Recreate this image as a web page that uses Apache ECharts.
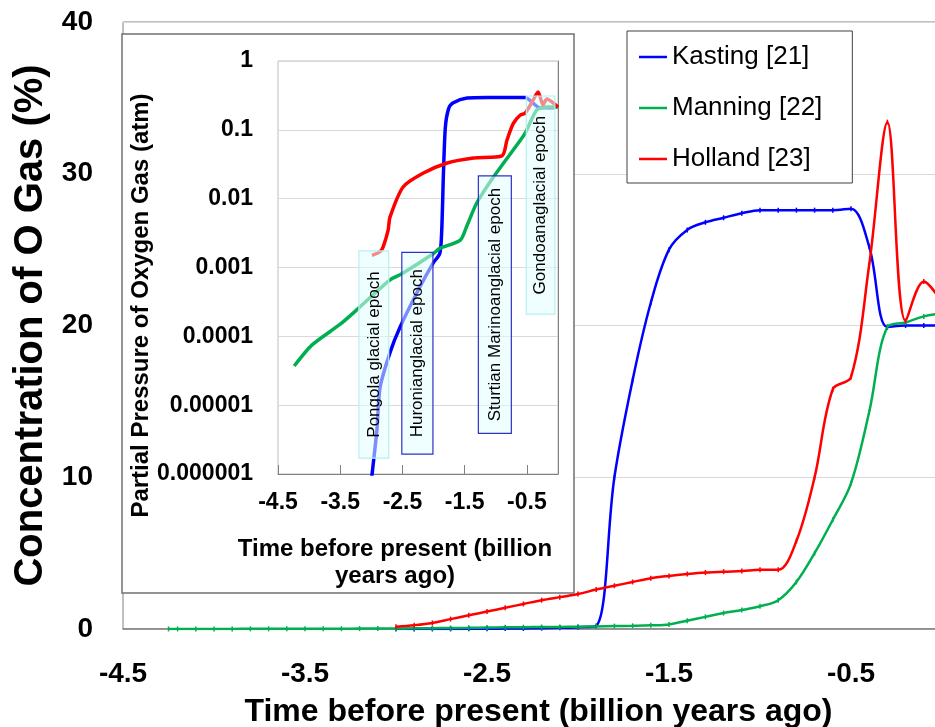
<!DOCTYPE html>
<html>
<head>
<meta charset="utf-8">
<script src="https://cdn.jsdelivr.net/npm/echarts@6/dist/echarts.min.js"></script>
<style>
  html, body { margin: 0; padding: 0; background: #fff; }
  #chart { width: 935px; height: 727px; }
</style>
</head>
<body>
<div id="chart"></div>
<script>
// main chart: oxygen concentration (%), one point every 0.1 Gyr
const mainTime = [-4.25, -4.2, -4.1, -4.0, -3.9, -3.8, -3.7, -3.6, -3.5, -3.4, -3.3, -3.2, -3.1, -3.0,
  -2.9, -2.8, -2.7, -2.6, -2.5, -2.4, -2.3, -2.2, -2.1, -2.0,
  -1.9, -1.8, -1.7, -1.6, -1.5, -1.4, -1.3, -1.2, -1.1, -1.0,
  -0.9, -0.8, -0.7, -0.6, -0.5, -0.4, -0.3, -0.2, -0.1, 0.0];
const kasting = [null, null, null, null, null, null, null, null, null, null, null, null, null, 0.0001,
  0.0006, 0.003, 0.006, 0.01, 0.016, 0.025, 0.037, 0.056, 0.08, 0.12,
  0.2, 10.0, 16.4, 21.5, 25.0, 26.3, 26.8, 27.1, 27.4, 27.6,
  27.6, 27.6, 27.6, 27.6, 27.7, 25.2, 19.9, 20.0, 20.0, 20.0];
const manning = [0.004, 0.005, 0.006, 0.007, 0.008, 0.009, 0.011, 0.013, 0.015, 0.018, 0.021, 0.025, 0.03, 0.035,
  0.045, 0.055, 0.065, 0.08, 0.1, 0.11, 0.12, 0.13, 0.14, 0.15,
  0.17, 0.19, 0.21, 0.24, 0.3, 0.55, 0.8, 1.05, 1.25, 1.5,
  1.9, 3.1, 5.0, 7.2, 9.6, 14.3, 19.9, 20.2, 20.6, 20.8];
const holland = [null, null, null, null, null, null, null, null, null, null, null, null, null, 0.15,
  0.25, 0.4, 0.65, 0.9, 1.15, 1.4, 1.65, 1.9, 2.1, 2.3,
  2.6, 2.85, 3.1, 3.35, 3.5, 3.62, 3.72, 3.78, 3.82, 3.9,
  3.9, 5.8, 10.0, 15.8, 16.6, 24.0, 33.4, 20.3, 22.9, 21.5];

// inset: partial pressure (atm), log scale
const insetKastingTime = [-3.0, -2.91, -2.86, -2.7, -2.54, -2.22, -2.01, -1.9, -1.87, -1.84, -1.81, -1.76, -1.69, -1.46, -1.14, -0.53, -0.29, -0.05];
const insetKastingAtm = [8e-7, 4.4e-6, 1.8e-5, 5.8e-5, 1.35e-4, 5.2e-4, 1.15e-3, 1.6e-3, 3.2e-3, 0.025, 0.11, 0.2, 0.245, 0.29, 0.295, 0.295, 0.21, 0.21];
const insetManningTime = [-4.24, -3.96, -3.5, -3.24, -2.7, -2.51, -2.0, -1.9, -1.57, -1.47, -1.31, -1.04, -0.72, -0.53, -0.34, -0.18, 0.0];
const insetManningAtm = [3.7e-5, 7.4e-5, 1.5e-4, 2.4e-4, 6.6e-4, 8.1e-4, 1.6e-3, 1.9e-3, 2.5e-3, 3.9e-3, 8.5e-3, 0.0204, 0.051, 0.089, 0.195, 0.214, 0.214];
const insetHollandTime = [-2.99, -2.86, -2.81, -2.73, -2.7, -2.49, -2.17, -1.78, -1.36, -0.9, -0.82, -0.72, -0.61, -0.53, -0.42, -0.32, -0.24, -0.18, 0.0];
const insetHollandAtm = [1.5e-3, 1.7e-3, 2.0e-3, 3.5e-3, 5.4e-3, 0.0148, 0.0234, 0.033, 0.039, 0.042, 0.071, 0.123, 0.163, 0.174, 0.25, 0.355, 0.23, 0.28, 0.214];

// glacial epochs drawn as boxes in the inset
const epochNames = ['Pongola glacial epoch', 'Huronianglacial epoch', 'Sturtian Marinoanglacial epoch', 'Gondoanaglacial epoch'];
const epochStart = [-3.2, -2.51, -1.28, -0.51];
const epochEnd = [-2.72, -2.01, -0.75, -0.05];
const epochLow = [1.7e-6, 1.95e-6, 3.9e-6, 2.1e-4];
const epochHigh = [1.74e-3, 1.66e-3, 0.0214, 0.31];

const timeTicks = [-4.5, -3.5, -2.5, -1.5, -0.5];
const pressureLabels = ['0.000001', '0.00001', '0.0001', '0.001', '0.01', '0.1', '1'];
const seriesNames = ['Kasting [21]', 'Manning [22]', 'Holland [23]'];
const colors = ['#0000ff', '#00b050', '#ff0000'];

const FONT = "'Liberation Sans', Arial, Helvetica, sans-serif";
const chart = echarts.init(document.getElementById('chart'));

function pairs(xs, ys) {
  return xs.map((x, i) => [x, ys[i]]);
}

function mainLine(i, values) {
  return {
    name: seriesNames[i],
    type: 'line',
    xAxisIndex: 0,
    yAxisIndex: 0,
    data: pairs(mainTime, values),
    smooth: 0.35,
    symbol: 'rect',
    symbolSize: [1.5, 5],
    showAllSymbol: true,
    z: 2,
    itemStyle: { color: colors[i] },
    lineStyle: { color: colors[i], width: 2.5 },
  };
}

function insetLine(i, xs, ys) {
  return {
    name: seriesNames[i],
    type: 'line',
    xAxisIndex: 1,
    yAxisIndex: 1,
    data: pairs(xs, ys),
    smooth: 0.25,
    showSymbol: false,
    z: 12,
    itemStyle: { color: colors[i] },
    lineStyle: { color: colors[i], width: 3.5 },
  };
}

const option = {
  animation: false,
  textStyle: { fontFamily: FONT },
  graphic: [{
    // frame of the inset
    type: 'rect',
    z: 5,
    shape: { x: 122, y: 34, width: 452, height: 559 },
    style: { fill: '#fff', stroke: '#707070', lineWidth: 1.5 },
  }],
  legend: {
    data: seriesNames,
    orient: 'vertical',
    left: 627,
    top: 31,
    padding: [13, 30, 11, 12],
    itemGap: 25,
    itemWidth: 28,
    itemHeight: 2.5,
    icon: 'rect',
    backgroundColor: '#fff',
    borderColor: '#404040',
    borderWidth: 1,
    textStyle: { fontSize: 26, color: '#000', fontFamily: FONT },
  },
  grid: [
    // the plot runs on past the right edge of the picture, as in the original
    { left: 123, top: 22, width: 819, height: 607, outerBoundsMode: 'none', show: true, borderColor: '#808080', borderWidth: 1 },
    { left: 278, top: 61, width: 280, height: 413, outerBoundsMode: 'none', show: true, borderColor: '#bfbfbf', borderWidth: 1, z: 10 },
  ],
  xAxis: [
    {
      type: 'value', gridIndex: 0, min: -4.5, max: 0,
      name: 'Time before present (billion years ago)',
      nameLocation: 'middle', nameGap: 67,
      nameTextStyle: { fontSize: 32, fontWeight: 'bold', color: '#000', padding: [0, 0, 0, 12], fontFamily: FONT },
      axisLine: { lineStyle: { color: '#808080', width: 1.5 } },
      axisTick: { show: false },
      splitLine: { show: false },
      axisLabel: {
        customValues: timeTicks, margin: 31,
        fontSize: 28, fontWeight: 'bold', color: '#000', fontFamily: FONT,
        formatter: v => v.toFixed(1),
      },
    },
    {
      type: 'value', gridIndex: 1, min: -4.5, max: 0, z: 10,
      name: 'Time before present (billion\nyears ago)',
      nameLocation: 'middle', nameGap: 62,
      nameTextStyle: { fontSize: 24, fontWeight: 'bold', color: '#000', lineHeight: 27, padding: [0, 46, 0, 0], fontFamily: FONT },
      axisLine: { lineStyle: { color: '#808080', width: 1 } },
      axisTick: { customValues: timeTicks, inside: true, length: 9, lineStyle: { color: '#808080' } },
      splitLine: { show: false },
      axisLabel: {
        customValues: timeTicks, margin: 17,
        fontSize: 23, fontWeight: 'bold', color: '#000', fontFamily: FONT,
        formatter: v => v.toFixed(1),
      },
    },
  ],
  yAxis: [
    {
      type: 'value', gridIndex: 0, min: 0, max: 40, interval: 10,
      name: 'Concentration of O Gas (%)',
      nameLocation: 'middle', nameGap: 72,
      nameTextStyle: { fontSize: 40, fontWeight: 'bold', color: '#000', fontFamily: FONT },
      axisLine: { show: true, lineStyle: { color: '#808080', width: 1.5 } },
      axisTick: { show: false },
      splitLine: { lineStyle: { color: '#d9d9d9', width: 1 } },
      axisLabel: { margin: 30, fontSize: 28, fontWeight: 'bold', color: '#000', fontFamily: FONT },
    },
    {
      type: 'log', logBase: 10, gridIndex: 1, min: 1e-6, max: 1, z: 10,
      name: 'Partial Pressure of Oxygen Gas (atm)',
      nameLocation: 'middle', nameGap: 123,
      nameTextStyle: { fontSize: 24, fontWeight: 'bold', color: '#000', padding: [0, 76, 0, 0], fontFamily: FONT },
      axisLine: { show: true, lineStyle: { color: '#808080', width: 1 } },
      axisTick: { show: false },
      splitLine: { lineStyle: { color: '#d9d9d9', width: 1 } },
      axisLabel: {
        margin: 25, fontSize: 23, fontWeight: 'bold', color: '#000', fontFamily: FONT,
        formatter: v => pressureLabels[Math.round(Math.log10(v)) + 6],
      },
    },
  ],
  series: [
    mainLine(0, kasting),
    mainLine(1, manning),
    mainLine(2, holland),
    insetLine(0, insetKastingTime, insetKastingAtm),
    insetLine(1, insetManningTime, insetManningAtm),
    insetLine(2, insetHollandTime, insetHollandAtm),
    {
      type: 'custom',
      xAxisIndex: 1,
      yAxisIndex: 1,
      z: 14,
      silent: true,
      encode: { x: [0, 1], y: [2, 3] },
      data: epochStart.map((s, i) => [s, epochEnd[i], epochLow[i], epochHigh[i]]),
      renderItem: function (params, api) {
        const i = params.dataIndex;
        const p0 = api.coord([api.value(0), api.value(3)]);
        const p1 = api.coord([api.value(1), api.value(2)]);
        const blueEdge = i === 1 || i === 2;
        return {
          type: 'group',
          children: [
            {
              type: 'rect',
              shape: { x: p0[0], y: p0[1], width: p1[0] - p0[0], height: p1[1] - p0[1] },
              style: {
                fill: 'rgba(225,255,255,0.55)',
                stroke: blueEdge ? '#3030c8' : '#b8f0f0',
                lineWidth: 1.2,
              },
            },
            {
              type: 'text',
              x: (p0[0] + p1[0]) / 2,
              y: (p0[1] + p1[1]) / 2,
              rotation: Math.PI / 2,
              style: {
                text: epochNames[i],
                align: 'center',
                verticalAlign: 'middle',
                font: '17px ' + FONT,
                fill: '#000',
              },
            },
          ],
        };
      },
    },
  ],
};

chart.setOption(option);
</script>
</body>
</html>
